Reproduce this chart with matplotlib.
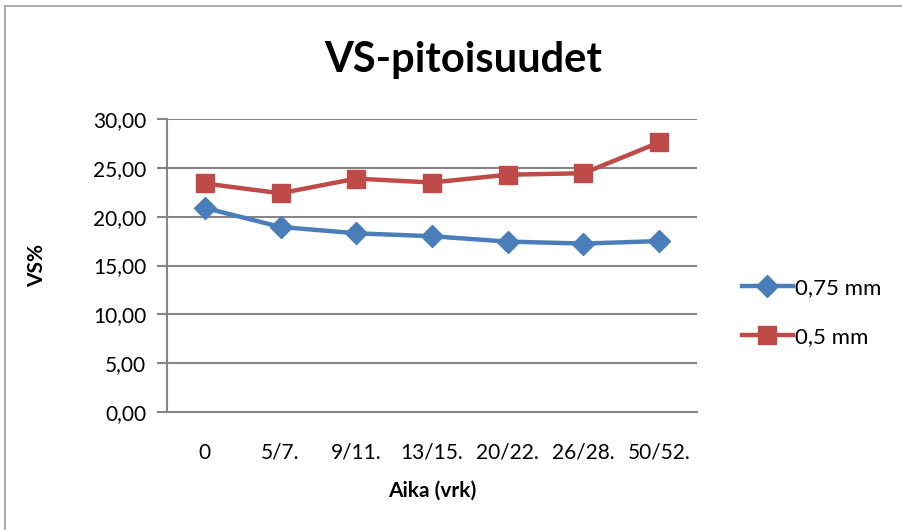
import matplotlib.pyplot as plt
from matplotlib.lines import Line2D

plt.rcParams['font.family'] = ['Lato', 'DejaVu Sans']

# Data
categories = ['0', '5/7.', '9/11.', '13/15.', '20/22.', '26/28.', '50/52.']
vs_075 = [20.9, 18.95, 18.3, 18.0, 17.45, 17.25, 17.5]
vs_05 = [23.4, 22.4, 23.9, 23.5, 24.3, 24.45, 27.6]
yticks = [0, 5, 10, 15, 20, 25, 30]
ytick_labels = ['0,00', '5,00', '10,00', '15,00', '20,00', '25,00', '30,00']

blue = '#4A7EBB'
red = '#BE4B48'
grid = '#868686'

fig = plt.figure(figsize=(9.02, 5.3), dpi=100)
ax = fig.add_axes([0.1851, 0.2226, 0.5876, 0.5528])

x = list(range(len(categories)))
ax.plot(x, vs_075, color=blue, lw=3.2, marker='D', markersize=11, label='0,75 mm')
ax.plot(x, vs_05, color=red, lw=3.2, marker='s', markersize=13, label='0,5 mm')

ax.set_xlim(-0.5, len(categories) - 0.5)
ax.set_ylim(0, 30)
ax.set_yticks(yticks)
ax.set_yticklabels(ytick_labels)
ax.set_xticks(x)
ax.set_xticklabels(categories)
ax.yaxis.grid(True, color=grid, lw=1.5)
ax.set_axisbelow(True)

for s in ['top', 'right']:
    ax.spines[s].set_visible(False)
ax.spines['left'].set_color(grid)
ax.spines['bottom'].set_color(grid)
ax.spines['left'].set_linewidth(1.5)
ax.spines['bottom'].set_linewidth(1.5)
ax.tick_params(axis='y', length=7, width=1.5, color=grid, labelsize=15, pad=8)
ax.tick_params(axis='x', length=0, labelsize=15, pad=22)

ax.set_xlabel('Aika (vrk)', fontsize=15, fontweight='bold', labelpad=13)
ax.set_ylabel('VS%', fontsize=15, fontweight='bold', labelpad=33)
fig.suptitle('VS-pitoisuudet', x=0.513, y=0.922, fontsize=30, fontweight='bold')

handles = [
    Line2D([], [], color=blue, lw=3.2, marker='D', markersize=11),
    Line2D([], [], color=red, lw=3.2, marker='s', markersize=13),
]
fig.legend(handles, ['0,75 mm', '0,5 mm'], loc='center left',
           bbox_to_anchor=(0.8, 0.41), frameon=False, fontsize=16,
           handlelength=2.3, handletextpad=0.1, labelspacing=1.3)

# chart area border
fig.add_artist(Line2D([0.0055, 0.0055], [0, 0.989], color='#A0A0A0', lw=1.2,
                      transform=fig.transFigure))
fig.add_artist(Line2D([0.0055, 1], [0.989, 0.989], color='#A0A0A0', lw=1.2,
                      transform=fig.transFigure))

plt.savefig('out.png', dpi=100)
